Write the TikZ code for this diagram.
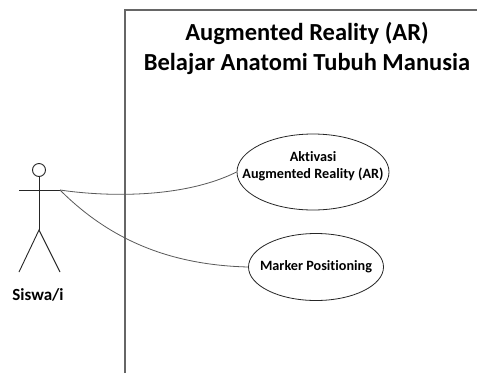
\documentclass[tikz,border=0pt]{standalone}
\usepackage{fontspec}
\setmainfont[Ligatures=NoCommon]{Carlito}
\usetikzlibrary{shapes.geometric}
\begin{document}
\begin{tikzpicture}[x=1pt,y=-1pt,
  uc/.style={draw=black!85, line width=0.8pt, ellipse, inner sep=0pt},
  uctext/.style={inner sep=0pt, font=\bfseries\fontsize{14.2}{17}\selectfont, align=center},
  conn/.style={draw=black!65, line width=0.8pt},
  stick/.style={draw=black!85, line width=0.9pt}]
\useasboundingbox (0,0) rectangle (477,373);
\fill[white] (0,0) rectangle (477,373);
% system boundary
\coordinate (bl) at (125,373);
\coordinate (tl) at (125,10);
\coordinate (tr) at (477,10);
\draw[black!60, line width=1.3pt] (bl) -- (tl) -- (tr);
\node[font=\bfseries\fontsize{24.5}{30}\selectfont, align=center] (title) at (307,48) {Augmented Reality (AR)\\Belajar Anatomi Tubuh Manusia};
% actor
\node[stick, circle, minimum size=13pt, inner sep=0pt] (head) at (39,170) {};
\coordinate (armL) at (19,190);
\coordinate (armR) at (60,190);
\coordinate (hip) at (39,230);
\coordinate (legL) at (19,272);
\coordinate (legR) at (60,272);
\draw[stick] (head.south) -- (hip);
\draw[stick] (armL) -- (armR);
\draw[stick] (legL) -- (hip) -- (legR);
\node[font=\bfseries\fontsize{17}{20}\selectfont] (actor) at (38,295) {Siswa/i};
% use cases
\node[uc, minimum width=152pt, minimum height=76pt] (uc1) at (313,172) {};
\node[uctext] (uc1t) at (313,166) {Aktivasi\\Augmented Reality (AR)};
\node[uc, minimum width=135pt, minimum height=67pt] (uc2) at (316,267) {};
\node[uctext] (uc2t) at (316,267) {Marker Positioning};
% connectors
\draw[conn] (armR) .. controls (100,196) and (180,200) .. (uc1.west);
\draw[conn] (armR) .. controls (110,240) and (170,265) .. (uc2.west);
\end{tikzpicture}
\end{document}
